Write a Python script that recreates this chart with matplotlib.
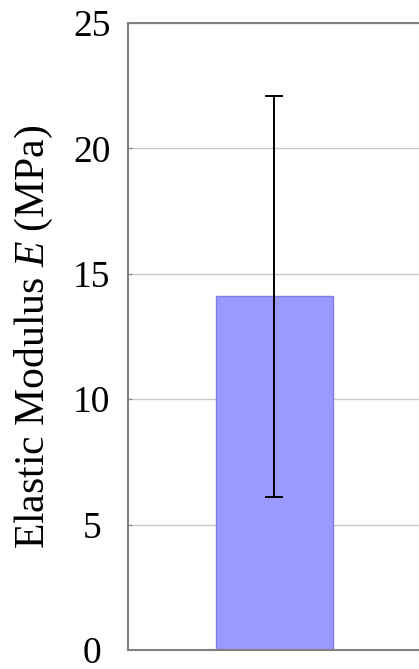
import matplotlib
matplotlib.use("Agg")
import matplotlib.pyplot as plt

# elastic modulus, mean and spread
samples = [""]
modulus = [14.1]
modulus_err = [8.0]
yticks = [0, 5, 10, 15, 20, 25]

plt.rcParams['font.family'] = ['Liberation Serif', 'DejaVu Serif']
plt.rcParams['mathtext.fontset'] = 'custom'
plt.rcParams['mathtext.it'] = 'Liberation Serif:italic'
plt.rcParams['mathtext.rm'] = 'Liberation Serif'

fig = plt.figure(figsize=(4.19, 6.69), dpi=100)
W, H = 419, 669
# axes run past the right edge of the figure
ax = fig.add_axes([128 / W, 1 - 650 / H, 307 / W, 627 / H])

ax.bar(range(len(modulus)), modulus, width=0.8, color='#9999ff',
       edgecolor='#7f7fdd', linewidth=1, zorder=2)
ax.errorbar(range(len(modulus)), modulus, yerr=modulus_err, fmt='none',
            ecolor='black', elinewidth=1.4, capsize=6.8, capthick=1.4, zorder=3)

ax.set_xlim(-1, 1.1)
ax.set_ylim(0, 25)
ax.set_yticks(yticks)
ax.set_xticks([])
ax.yaxis.grid(True, color='#c8c8c8', linewidth=1)
ax.set_axisbelow(True)
for s in ax.spines.values():
    s.set_color('#808080')
    s.set_linewidth(1.5)
ax.tick_params(axis='y', direction='in', length=3, color='#808080',
               labelsize=27, pad=26)
for lbl in ax.get_yticklabels():
    lbl.set_horizontalalignment('center')
ax.set_ylabel('Elastic Modulus $E$ (MPa)', fontsize=30, labelpad=13)

fig.savefig('out.png', dpi=100)
